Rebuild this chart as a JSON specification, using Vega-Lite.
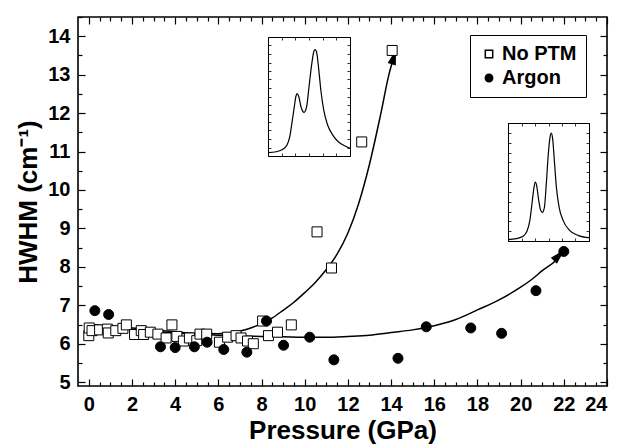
{
  "$schema": "https://vega.github.io/schema/vega-lite/v6.json",
  "width": 529,
  "height": 369,
  "autosize": {"type": "none"},
  "padding": {"left": 78, "top": 17, "right": 15, "bottom": 62},
  "background": "white",
  "config": {
    "font": "Liberation Sans",
    "view": {"stroke": "black", "strokeWidth": 1.6},
    "axis": {
      "grid": false, "domain": false, "tickColor": "black", "tickWidth": 1.2,
      "labelColor": "black", "titleColor": "black",
      "labelFont": "Liberation Sans", "titleFont": "Liberation Sans",
      "labelFontWeight": "bold", "titleFontWeight": "bold",
      "labelFontSize": 20, "titleFontSize": 26
    }
  },
  "datasets": {
    "pts": [
      {"series": "No PTM", "P": 0.0, "H": 6.21}, {"series": "No PTM", "P": 0.02, "H": 6.41},
      {"series": "No PTM", "P": 0.15, "H": 6.34}, {"series": "No PTM", "P": 0.5, "H": 6.36},
      {"series": "No PTM", "P": 0.86, "H": 6.38}, {"series": "No PTM", "P": 0.9, "H": 6.28},
      {"series": "No PTM", "P": 1.25, "H": 6.34}, {"series": "No PTM", "P": 1.58, "H": 6.40},
      {"series": "No PTM", "P": 1.74, "H": 6.49}, {"series": "No PTM", "P": 2.12, "H": 6.24},
      {"series": "No PTM", "P": 2.43, "H": 6.34}, {"series": "No PTM", "P": 2.54, "H": 6.24},
      {"series": "No PTM", "P": 2.85, "H": 6.30}, {"series": "No PTM", "P": 3.2, "H": 6.25},
      {"series": "No PTM", "P": 3.58, "H": 6.15}, {"series": "No PTM", "P": 3.85, "H": 6.49},
      {"series": "No PTM", "P": 4.08, "H": 6.19}, {"series": "No PTM", "P": 4.38, "H": 6.07},
      {"series": "No PTM", "P": 4.66, "H": 6.15}, {"series": "No PTM", "P": 5.0, "H": 6.08},
      {"series": "No PTM", "P": 5.15, "H": 6.25}, {"series": "No PTM", "P": 5.46, "H": 6.25},
      {"series": "No PTM", "P": 6.05, "H": 6.04}, {"series": "No PTM", "P": 6.43, "H": 6.17},
      {"series": "No PTM", "P": 6.82, "H": 6.21}, {"series": "No PTM", "P": 7.05, "H": 6.15},
      {"series": "No PTM", "P": 7.35, "H": 6.07}, {"series": "No PTM", "P": 7.62, "H": 6.0},
      {"series": "No PTM", "P": 8.05, "H": 6.59}, {"series": "No PTM", "P": 8.32, "H": 6.21},
      {"series": "No PTM", "P": 8.74, "H": 6.30}, {"series": "No PTM", "P": 9.38, "H": 6.49},
      {"series": "No PTM", "P": 10.57, "H": 8.91}, {"series": "No PTM", "P": 11.24, "H": 7.97},
      {"series": "No PTM", "P": 12.64, "H": 11.25}, {"series": "No PTM", "P": 14.05, "H": 13.63},
      {"series": "Argon", "P": 0.28, "H": 6.86}, {"series": "Argon", "P": 0.92, "H": 6.76},
      {"series": "Argon", "P": 3.32, "H": 5.92}, {"series": "Argon", "P": 4.0, "H": 5.90},
      {"series": "Argon", "P": 4.89, "H": 5.92}, {"series": "Argon", "P": 5.48, "H": 6.04},
      {"series": "Argon", "P": 6.25, "H": 5.85}, {"series": "Argon", "P": 7.32, "H": 5.78},
      {"series": "Argon", "P": 8.23, "H": 6.59}, {"series": "Argon", "P": 9.02, "H": 5.96},
      {"series": "Argon", "P": 10.23, "H": 6.17}, {"series": "Argon", "P": 11.35, "H": 5.58},
      {"series": "Argon", "P": 14.32, "H": 5.62}, {"series": "Argon", "P": 15.63, "H": 6.44},
      {"series": "Argon", "P": 17.69, "H": 6.41}, {"series": "Argon", "P": 19.12, "H": 6.27},
      {"series": "Argon", "P": 20.71, "H": 7.38}, {"series": "Argon", "P": 22.0, "H": 8.40}
    ],
    "fit": [
      {"series": "No PTM", "P": 0.1, "H": 6.50}, {"series": "No PTM", "P": 1, "H": 6.46},
      {"series": "No PTM", "P": 2, "H": 6.41}, {"series": "No PTM", "P": 3, "H": 6.36},
      {"series": "No PTM", "P": 4, "H": 6.31}, {"series": "No PTM", "P": 5, "H": 6.27},
      {"series": "No PTM", "P": 6, "H": 6.26}, {"series": "No PTM", "P": 7, "H": 6.33},
      {"series": "No PTM", "P": 7.5, "H": 6.41}, {"series": "No PTM", "P": 8, "H": 6.52},
      {"series": "No PTM", "P": 8.5, "H": 6.67}, {"series": "No PTM", "P": 9, "H": 6.87},
      {"series": "No PTM", "P": 9.5, "H": 7.08}, {"series": "No PTM", "P": 10, "H": 7.33},
      {"series": "No PTM", "P": 10.5, "H": 7.6}, {"series": "No PTM", "P": 11, "H": 7.93},
      {"series": "No PTM", "P": 11.5, "H": 8.33}, {"series": "No PTM", "P": 12, "H": 8.88},
      {"series": "No PTM", "P": 12.5, "H": 9.65}, {"series": "No PTM", "P": 13, "H": 10.67},
      {"series": "No PTM", "P": 13.5, "H": 11.92}, {"series": "No PTM", "P": 13.9, "H": 13.0},
      {"series": "No PTM", "P": 14.21, "H": 13.6},
      {"series": "Argon", "P": 0.2, "H": 6.46}, {"series": "Argon", "P": 1, "H": 6.42},
      {"series": "Argon", "P": 2, "H": 6.37}, {"series": "Argon", "P": 3, "H": 6.32},
      {"series": "Argon", "P": 4, "H": 6.28}, {"series": "Argon", "P": 5, "H": 6.25},
      {"series": "Argon", "P": 6, "H": 6.22}, {"series": "Argon", "P": 7, "H": 6.20},
      {"series": "Argon", "P": 8, "H": 6.19}, {"series": "Argon", "P": 9, "H": 6.18},
      {"series": "Argon", "P": 10, "H": 6.17}, {"series": "Argon", "P": 11, "H": 6.17},
      {"series": "Argon", "P": 12, "H": 6.19}, {"series": "Argon", "P": 13, "H": 6.22},
      {"series": "Argon", "P": 14, "H": 6.29}, {"series": "Argon", "P": 15, "H": 6.36},
      {"series": "Argon", "P": 16, "H": 6.47}, {"series": "Argon", "P": 17, "H": 6.63},
      {"series": "Argon", "P": 18, "H": 6.88}, {"series": "Argon", "P": 19, "H": 7.14},
      {"series": "Argon", "P": 20, "H": 7.47}, {"series": "Argon", "P": 20.6, "H": 7.71},
      {"series": "Argon", "P": 21, "H": 7.9}, {"series": "Argon", "P": 21.65, "H": 8.18},
      {"series": "Argon", "P": 22.0, "H": 8.42}
    ],
    "arrows": [
      {"series": "No PTM", "P": 14.23, "H": 13.66},
      {"series": "Argon", "P": 22.04, "H": 8.45}
    ],
    "inset1": [
      {"x": 0.0, "y": 0.028}, {"x": 0.10, "y": 0.036}, {"x": 0.18, "y": 0.056}, {"x": 0.23, "y": 0.09},
      {"x": 0.265, "y": 0.16}, {"x": 0.29, "y": 0.27}, {"x": 0.32, "y": 0.41}, {"x": 0.34, "y": 0.50},
      {"x": 0.355, "y": 0.525}, {"x": 0.375, "y": 0.50}, {"x": 0.404, "y": 0.41}, {"x": 0.44, "y": 0.366},
      {"x": 0.47, "y": 0.41}, {"x": 0.50, "y": 0.58}, {"x": 0.535, "y": 0.78}, {"x": 0.56, "y": 0.88},
      {"x": 0.576, "y": 0.894}, {"x": 0.596, "y": 0.86}, {"x": 0.62, "y": 0.72}, {"x": 0.645, "y": 0.55},
      {"x": 0.68, "y": 0.385}, {"x": 0.727, "y": 0.26}, {"x": 0.79, "y": 0.176}, {"x": 0.857, "y": 0.12},
      {"x": 0.94, "y": 0.084}, {"x": 1.0, "y": 0.064}
    ],
    "inset2": [
      {"x": 0.0, "y": 0.011}, {"x": 0.10, "y": 0.02}, {"x": 0.185, "y": 0.04}, {"x": 0.235, "y": 0.085},
      {"x": 0.27, "y": 0.175}, {"x": 0.296, "y": 0.316}, {"x": 0.32, "y": 0.45}, {"x": 0.337, "y": 0.50},
      {"x": 0.354, "y": 0.47}, {"x": 0.379, "y": 0.345}, {"x": 0.403, "y": 0.26}, {"x": 0.424, "y": 0.243},
      {"x": 0.45, "y": 0.288}, {"x": 0.473, "y": 0.486}, {"x": 0.498, "y": 0.74}, {"x": 0.519, "y": 0.88},
      {"x": 0.535, "y": 0.915}, {"x": 0.551, "y": 0.867}, {"x": 0.572, "y": 0.684}, {"x": 0.597, "y": 0.458},
      {"x": 0.63, "y": 0.29}, {"x": 0.68, "y": 0.175}, {"x": 0.76, "y": 0.09}, {"x": 0.864, "y": 0.048},
      {"x": 1.0, "y": 0.028}
    ]
  },
  "layer": [
    {
      "layer": [
        {
          "data": {"name": "fit"},
          "mark": {"type": "line", "color": "black", "strokeWidth": 1.5, "interpolate": "monotone"},
          "encoding": {
            "x": {"field": "P", "type": "quantitative", "scale": {"domain": [-0.5, 24], "nice": false, "zero": false},
                  "axis": {"orient": "bottom", "values": [0, 2, 4, 6, 8, 10, 12, 14, 16, 18, 20, 22, 24], "ticks": false, "labelPadding": 8, "title": "Pressure (GPa)", "titlePadding": 3}},
            "y": {"field": "H", "type": "quantitative", "scale": {"domain": [4.9, 14.5], "nice": false, "zero": false},
                  "axis": {"orient": "left", "values": [5, 6, 7, 8, 9, 10, 11, 12, 13, 14], "ticks": false, "labelPadding": 8, "title": "HWHM (cm⁻¹)", "titlePadding": 6}},
            "detail": {"field": "series"}
          }
        },
        {
          "data": {"name": "arrows"},
          "transform": [{"filter": "datum.series === 'No PTM'"}],
          "mark": {"type": "point", "shape": "M0,0L0.6,2.2L-0.6,2.2Z", "filled": true, "color": "black", "opacity": 1, "size": 200, "angle": 16},
          "encoding": {"x": {"field": "P", "type": "quantitative"}, "y": {"field": "H", "type": "quantitative"}}
        },
        {
          "data": {"name": "arrows"},
          "transform": [{"filter": "datum.series === 'Argon'"}],
          "mark": {"type": "point", "shape": "M0,0L0.6,2.2L-0.6,2.2Z", "filled": true, "color": "black", "opacity": 1, "size": 200, "angle": 44},
          "encoding": {"x": {"field": "P", "type": "quantitative"}, "y": {"field": "H", "type": "quantitative"}}
        },
        {
          "data": {"name": "pts"},
          "mark": {"type": "point", "filled": true, "stroke": "black", "strokeWidth": 1, "size": 100, "opacity": 1},
          "encoding": {
            "x": {"field": "P", "type": "quantitative"},
            "y": {"field": "H", "type": "quantitative"},
            "shape": {"field": "series", "type": "nominal", "scale": {"domain": ["No PTM", "Argon"], "range": ["square", "circle"]},
                      "legend": {"title": null, "orient": "none", "legendX": 392, "legendY": 18, "strokeColor": "black", "fillColor": "white", "padding": 9, "labelFontSize": 20, "labelFontWeight": "bold", "labelFont": "Liberation Sans", "labelColor": "black", "symbolSize": 55, "labelOffset": 3, "rowPadding": 4,
                                 "encode": {"symbols": {"update": {"stroke": {"value": "black"}, "strokeWidth": {"value": 1}}}}}},
            "fill": {"field": "series", "type": "nominal", "scale": {"domain": ["No PTM", "Argon"], "range": ["white", "black"]},
                     "legend": {"title": null, "orient": "none", "legendX": 392, "legendY": 18, "strokeColor": "black", "fillColor": "white", "padding": 9, "labelFontSize": 20, "labelFontWeight": "bold", "labelFont": "Liberation Sans", "labelColor": "black", "symbolSize": 55, "labelOffset": 3, "rowPadding": 4,
                                "encode": {"symbols": {"update": {"stroke": {"value": "black"}, "strokeWidth": {"value": 1}}}}}}
          }
        }
      ]
    },
    {
      "data": {"name": "pts"},
      "mark": {"type": "point", "opacity": 0},
      "encoding": {
        "x": {"field": "P", "type": "quantitative", "scale": {"domain": [-0.5, 24], "nice": false, "zero": false},
              "axis": {"orient": "bottom", "values": [0, 2, 4, 6, 8, 10, 12, 14, 16, 18, 20, 22, 24], "tickSize": -7, "labels": false, "title": null}},
        "y": {"field": "H", "type": "quantitative", "scale": {"domain": [4.9, 14.5], "nice": false, "zero": false},
              "axis": {"orient": "left", "values": [5, 6, 7, 8, 9, 10, 11, 12, 13, 14], "tickSize": -7, "labels": false, "title": null}}
      }
    },
    {
      "data": {"name": "pts"},
      "mark": {"type": "point", "opacity": 0},
      "encoding": {
        "x": {"field": "P", "type": "quantitative", "scale": {"domain": [-0.5, 24], "nice": false, "zero": false},
              "axis": {"orient": "bottom", "values": [0.5, 1, 1.5, 2.5, 3, 3.5, 4.5, 5, 5.5, 6.5, 7, 7.5, 8.5, 9, 9.5, 10.5, 11, 11.5, 12.5, 13, 13.5, 14.5, 15, 15.5, 16.5, 17, 17.5, 18.5, 19, 19.5, 20.5, 21, 21.5, 22.5, 23, 23.5], "tickSize": -4, "labels": false, "title": null}},
        "y": {"field": "H", "type": "quantitative", "scale": {"domain": [4.9, 14.5], "nice": false, "zero": false},
              "axis": {"orient": "left", "values": [5.5, 6.5, 7.5, 8.5, 9.5, 10.5, 11.5, 12.5, 13.5, 14.5], "tickSize": -4, "labels": false, "title": null}}
      }
    },
    {
      "data": {"name": "pts"},
      "mark": {"type": "point", "opacity": 0},
      "encoding": {
        "x": {"field": "P", "type": "quantitative", "scale": {"domain": [-0.5, 24], "nice": false, "zero": false},
              "axis": {"orient": "top", "values": [0, 2, 4, 6, 8, 10, 12, 14, 16, 18, 20, 22, 24], "tickSize": -7, "labels": false, "title": null}},
        "y": {"field": "H", "type": "quantitative", "scale": {"domain": [4.9, 14.5], "nice": false, "zero": false},
              "axis": {"orient": "right", "values": [5, 6, 7, 8, 9, 10, 11, 12, 13, 14], "tickSize": -7, "labels": false, "title": null}}
      }
    },
    {
      "data": {"name": "pts"},
      "mark": {"type": "point", "opacity": 0},
      "encoding": {
        "x": {"field": "P", "type": "quantitative", "scale": {"domain": [-0.5, 24], "nice": false, "zero": false},
              "axis": {"orient": "top", "values": [0.5, 1, 1.5, 2.5, 3, 3.5, 4.5, 5, 5.5, 6.5, 7, 7.5, 8.5, 9, 9.5, 10.5, 11, 11.5, 12.5, 13, 13.5, 14.5, 15, 15.5, 16.5, 17, 17.5, 18.5, 19, 19.5, 20.5, 21, 21.5, 22.5, 23, 23.5], "tickSize": -4, "labels": false, "title": null}},
        "y": {"field": "H", "type": "quantitative", "scale": {"domain": [4.9, 14.5], "nice": false, "zero": false},
              "axis": {"orient": "right", "values": [5.5, 6.5, 7.5, 8.5, 9.5, 10.5, 11.5, 12.5, 13.5], "tickSize": -4, "labels": false, "title": null}}
      }
    },
    {
      "data": {"name": "inset1"},
      "mark": {"type": "line", "color": "black", "strokeWidth": 1.2, "interpolate": "monotone"},
      "encoding": {
        "x": {"field": "x", "type": "quantitative", "scale": {"domain": [0, 1], "range": [190, 272], "nice": false, "zero": false},
              "axis": {"orient": "bottom", "offset": -230, "domain": true, "domainColor": "black", "domainWidth": 1, "values": [0, 0.1667, 0.3333, 0.5, 0.6667, 0.8333, 1], "tickSize": -3, "tickWidth": 0.8, "labels": false, "title": null}},
        "y": {"field": "y", "type": "quantitative", "scale": {"domain": [0, 1], "range": [139, 20], "nice": false, "zero": false},
              "axis": {"orient": "left", "offset": -190, "domain": true, "domainColor": "black", "domainWidth": 1, "values": [0, 0.0714, 0.1429, 0.2143, 0.2857, 0.3571, 0.4286, 0.5, 0.5714, 0.6429, 0.7143, 0.7857, 0.8571, 0.9286, 1], "tickSize": -3, "tickWidth": 0.8, "labels": false, "title": null}}
      }
    },
    {
      "data": {"name": "inset1"},
      "mark": {"type": "line", "color": "black", "strokeOpacity": 0},
      "encoding": {
        "x": {"field": "x", "type": "quantitative", "scale": {"domain": [0, 1], "range": [190, 272], "nice": false, "zero": false},
              "axis": {"orient": "top", "offset": -20, "domain": true, "domainColor": "black", "domainWidth": 1, "values": [0, 0.1667, 0.3333, 0.5, 0.6667, 0.8333, 1], "tickSize": -3, "tickWidth": 0.8, "labels": false, "title": null}},
        "y": {"field": "y", "type": "quantitative", "scale": {"domain": [0, 1], "range": [139, 20], "nice": false, "zero": false},
              "axis": {"orient": "right", "offset": -257, "domain": true, "domainColor": "black", "domainWidth": 1, "values": [0, 0.0714, 0.1429, 0.2143, 0.2857, 0.3571, 0.4286, 0.5, 0.5714, 0.6429, 0.7143, 0.7857, 0.8571, 0.9286, 1], "tickSize": -3, "tickWidth": 0.8, "labels": false, "title": null}}
      }
    },
    {
      "data": {"name": "inset2"},
      "mark": {"type": "line", "color": "black", "strokeWidth": 1.2, "interpolate": "monotone"},
      "encoding": {
        "x": {"field": "x", "type": "quantitative", "scale": {"domain": [0, 1], "range": [430, 511], "nice": false, "zero": false},
              "axis": {"orient": "bottom", "offset": -145, "domain": true, "domainColor": "black", "domainWidth": 1, "values": [0, 0.1667, 0.3333, 0.5, 0.6667, 0.8333, 1], "tickSize": -3, "tickWidth": 0.8, "labels": false, "title": null}},
        "y": {"field": "y", "type": "quantitative", "scale": {"domain": [0, 1], "range": [224, 106], "nice": false, "zero": false},
              "axis": {"orient": "left", "offset": -430, "domain": true, "domainColor": "black", "domainWidth": 1, "values": [0, 0.0833, 0.1667, 0.25, 0.3333, 0.4167, 0.5, 0.5833, 0.6667, 0.75, 0.8333, 0.9167, 1], "tickSize": -3, "tickWidth": 0.8, "labels": false, "title": null}}
      }
    },
    {
      "data": {"name": "inset2"},
      "mark": {"type": "line", "color": "black", "strokeOpacity": 0},
      "encoding": {
        "x": {"field": "x", "type": "quantitative", "scale": {"domain": [0, 1], "range": [430, 511], "nice": false, "zero": false},
              "axis": {"orient": "top", "offset": -106, "domain": true, "domainColor": "black", "domainWidth": 1, "values": [0, 0.1667, 0.3333, 0.5, 0.6667, 0.8333, 1], "tickSize": -3, "tickWidth": 0.8, "labels": false, "title": null}},
        "y": {"field": "y", "type": "quantitative", "scale": {"domain": [0, 1], "range": [224, 106], "nice": false, "zero": false},
              "axis": {"orient": "right", "offset": -18, "domain": true, "domainColor": "black", "domainWidth": 1, "values": [0, 0.0833, 0.1667, 0.25, 0.3333, 0.4167, 0.5, 0.5833, 0.6667, 0.75, 0.8333, 0.9167, 1], "tickSize": -3, "tickWidth": 0.8, "labels": false, "title": null}}
      }
    }
  ],
  "resolve": {"scale": {"x": "independent", "y": "independent"}}
}
